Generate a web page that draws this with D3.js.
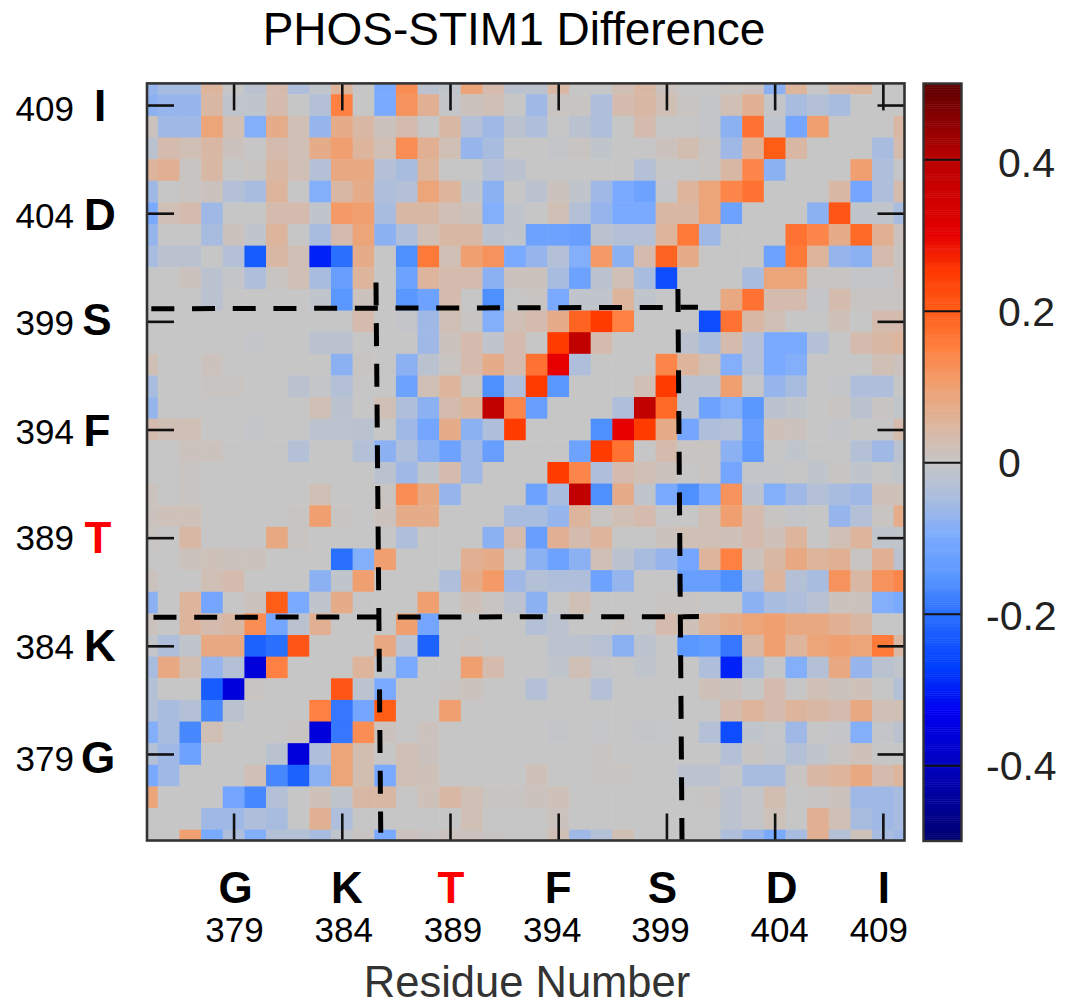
<!DOCTYPE html>
<html>
<head>
<meta charset="utf-8">
<script src="https://cdnjs.cloudflare.com/ajax/libs/d3/7.8.5/d3.min.js"></script>
<style>
html, body { margin: 0; padding: 0; background: #fff; }
svg { display: block; }
text { font-family: "Liberation Sans", Arial, sans-serif; fill: #000; }
</style>
</head>
<body>
<svg id="chart" width="1065" height="1005"></svg>
<script>
// one array per residue on the y axis, columns run from residue 375 to 410
var r410 = [-.07,-.05,-.05,.05,0,-.02,.03,-.04,-.01,.05,0,-.1, .13,-.02,-.01,.09,.03,-.02,-.02,.04,0,0,.02,.04, .01,0,0,.005,.01,-.08,.05,0,.04,.05,0,0];
var r409 = [-.08,-.07,-.07,.04,-.01,-.01,.03,0,-.03,.15,0,-.1, .12,.06,-.005,.01,.02,0,-.06,.005,.005,-.04,.03,.04, .02,.005,-.005,.02,.06,-.005,-.05,-.03,-.05,0,0,0];
var r408 = [.01,-.06,-.06,.09,.02,-.09,.07,.02,-.07,.07,.04,.01, .03,0,.04,-.03,-.06,-.02,-.04,0,-.02,-.04,0,.03, 0,0,-.005,-.08,.17,-.01,-.11,.1,0,0,0,.04];
var r407 = [-.02,.03,.02,.04,.01,0,.03,.02,.07,.1,.05,.02, .13,.06,.02,-.07,-.05,0,0,-.005,.005,-.01,0,0, .01,.025,.005,-.06,.06,.2,.04,0,0,0,-.05,.03];
var r406 = [.05,.06,.005,.04,0,.005,.04,.02,-.03,.08,.08,-.03, -.05,.05,0,0,-.03,-.02,0,0,0,0,0,-.03, 0,0,.005,.04,.14,-.08,0,0,0,.1,-.04,-.005];
var r405 = [-.06,0,.005,.01,-.03,-.05,.05,0,-.09,.04,.07,-.04, -.03,.09,.05,-.01,-.08,0,-.02,.01,-.01,-.06,-.1,-.12, -.005,.05,.09,.14,.17,0,0,0,.04,-.11,-.04,.03];
var r404 = [-.1,.02,.03,-.06,0,0,.03,.03,-.01,.11,.1,-.05, .04,.04,.02,.01,-.09,-.01,0,.02,-.03,-.07,-.1,-.1, .04,.04,.09,-.12,0,0,0,-.08,.21,-.01,-.01,-.05];
var r403 = [-.07,0,0,-.05,.01,-.01,.05,0,-.05,.03,.09,-.08, -.04,.02,.04,.04,-.02,-.01,-.12,-.12,-.13,-.02,-.03,-.03, .05,.16,-.06,0,0,0,.17,.14,.07,.18,.06,.01];
var r402 = [-.05,-.02,-.02,0,-.03,-.23,.04,.02,-.3,-.2,.07,0, -.16,.16,.02,.1,.12,-.1,-.07,-.03,-.09,.11,-.08,.03, .19,.07,0,0,0,-.12,.16,.05,-.07,-.08,.03,.005];
var r401 = [0,0,.01,-.02,-.005,-.04,.005,.02,-.05,-.13,.05,0, -.12,.05,.03,.03,-.08,.01,.01,-.05,-.12,-.02,.02,-.05, -.25,0,0,0,-.05,.09,.09,.005,.005,-.005,-.005,.01];
var r400 = [0,0,0,-.02,0,0,0,0,-.01,-.15,.01,0, -.15,-.12,.03,0,-.16,0,.005,-.1,-.01,-.01,.05,-.01, 0,0,0,.08,.17,.03,.03,-.005,.03,.005,.005,.005];
var r399 = [0,0,0,0,0,0,0,0,0,0,.03,0, -.005,-.06,.02,.005,-.09,.02,.03,.07,.19,.25,.15,0, 0,0,-.25,.17,.04,.02,0,0,.015,0,.03,.03];
var r398 = [0,0,0,0,0,-.005,0,0,-.02,-.02,0,0, 0,-.06,.01,.03,-.01,.03,0,.25,.38,.03,0,0, 0,-.02,-.05,.03,-.03,-.1,-.1,-.03,0,.03,.04,.05];
var r397 = [.02,0,0,.01,0,0,0,0,0,-.08,.005,0, -.08,-.02,.005,.03,.07,.03,.17,.3,-.04,0,0,0, .14,.05,.02,-.09,-.03,-.1,-.09,0,0,0,.02,.01];
var r396 = [-.05,0,0,.005,.005,0,0,-.02,-.005,-.03,0,0, -.12,.02,.05,.005,-.16,-.04,.25,-.15,0,0,0,.02, .25,-.02,-.02,.1,-.005,-.07,-.05,0,-.005,-.04,-.04,0];
var r395 = [-.07,0,0,0,0,0,0,0,.02,-.02,0,.02, -.04,-.08,.03,.05,.38,.14,-.13,0,0,0,-.04,.38, .18,-.02,-.12,-.09,-.15,-.02,-.01,0,.005,-.02,.005,-.01];
var r394 = [.03,.02,.02,0,0,-.005,0,0,-.015,-.015,-.02,0, -.06,-.11,.07,-.08,-.04,.25,0,0,0,-.16,.3,.25, .07,-.11,-.04,-.03,-.13,.015,.01,0,-.005,0,0,.03];
var r393 = [0,0,.01,.01,0,0,0,-.03,0,0,-.03,-.08, -.04,-.08,-.12,-.06,-.13,0,0,0,-.12,.25,.17,0, .03,.005,.005,-.08,-.14,0,-.01,0,0,-.03,-.06,-.02];
var r392 = [0,0,.005,0,0,0,0,0,0,0,0,-.02, -.06,-.01,.03,-.06,0,0,0,.25,.14,-.04,.03,.02, .01,0,.005,-.11,-.005,-.005,0,-.01,.005,-.01,0,-.01];
var r391 = [.01,0,.005,0,0,0,0,0,.02,0,0,.005, .13,.08,-.07,0,0,0,-.12,-.05,.38,-.16,.07,-.01, -.1,-.16,-.1,.12,-.02,-.09,-.06,-.03,-.05,-.06,.015,.015];
var r390 = [.01,.015,.015,0,0,0,0,.005,.1,.005,0,.01, .07,.07,0,0,0,-.05,-.05,-.07,.05,.005,.02,.03, 0,0,.02,.1,.03,.005,-.005,0,-.07,-.03,.005,.07];
var r389 = [.005,0,.04,0,0,0,.08,.005,0,0,0,0, -.04,0,0,0,-.08,.03,-.13,.06,.03,.05,0,0, .01,.02,.02,.015,.03,.015,.05,0,.02,.05,-.01,-.01];
var r388 = [0,0,.01,.015,.01,.01,0,0,0,-.2,-.09,.1, 0,0,0,.06,.07,-.005,-.08,-.12,-.08,.02,-.02,-.05, -.07,-.11,.05,.15,.01,.04,.08,.05,.06,.005,.06,-.02];
var r387 = [.01,0,0,.02,.03,0,0,0,-.08,-.01,.1,0, 0,0,-.04,.07,.11,-.06,-.03,-.04,-.04,-.12,-.07,0, 0,-.13,-.13,-.16,-.04,.05,-.03,-.05,.12,.04,.12,.14];
var r386 = [-.08,0,.05,-.11,0,.01,.2,-.1,-.01,.07,0,0, 0,.1,0,.015,.005,-.015,-.08,0,.02,0,0,0, .005,.005,0,0,-.08,-.05,-.04,-.025,.01,.01,-.09,-.1];
var r385 = [.01,0,.05,.03,.04,.13,-.11,-.02,.06,0,0,0, .1,-.11,0,0,0,0,-.03,-.015,0,0,.005,0, .03,.015,.05,.07,.09,.1,.08,.08,.06,.04,0,0];
var r384 = [-.005,-.04,-.01,.08,.08,-.22,-.2,.21,0,0,0,.08, -.015,-.22,0,.005,0,0,0,-.015,-.015,-.025,-.08,-.015, 0,-.15,-.14,-.19,.04,.1,.05,.09,.1,.09,.16,.04];
var r383 = [-.05,.08,.025,-.07,-.03,-.36,.15,0,0,0,.05,-.01, -.1,0,0,.1,.03,0,0,-.01,.02,-.005,0,-.01, 0,0,-.04,-.3,-.05,-.005,-.09,-.03,.08,-.07,-.02,-.01];
var r382 = [-.03,0,0,-.23,-.36,.005,0,0,0,.21,-.015,-.1, 0,0,.005,.01,0,0,-.03,0,0,-.03,0,0, 0,0,.015,.01,0,.03,0,.02,.01,.015,0,-.03];
var r381 = [-.03,-.05,-.03,-.17,-.02,0,0,0,.15,-.19,-.11,.2, 0,0,.1,0,0,0,0,0,0,0,0,0, 0,0,0,.03,.05,.03,.05,.04,.03,.08,.02,.02];
var r380 = [-.09,-.05,-.17,.02,0,0,0,.005,-.36,-.19,.13,.01, 0,.01,0,0,0,0,0,-.005,0,-.002,0,-.005, -.002,0,-.03,-.25,-.01,-.002,-.06,0,-.005,-.09,-.005,-.02];
var r379 = [-.03,-.06,-.12,0,0,0,-.02,-.36,-.04,.09,.025,0, .02,.01,0,0,0,0,0,0,0,.005,0,0, 0,0,0,-.03,.005,-.005,-.03,-.01,.005,.015,0,0];
var r378 = [-.1,-.06,0,0,0,.02,-.17,-.22,-.08,.09,.025,-.1, .02,.015,0,0,0,0,.015,0,0,.003,.005,0, 0,-.015,-.015,-.005,-.05,-.05,.005,.04,.05,.08,.03,.05];
var r377 = [.09,0,0,0,-.11,-.17,-.03,0,.015,-.01,.04,.04, 0,.015,.04,.02,.005,.005,.01,.015,0,0,0,0, 0,0,.002,-.015,-.005,.025,0,.002,.01,-.06,-.06,-.05];
var r376 = [0,0,0,-.06,-.06,-.04,-.05,0,.06,-.04,0,0, 0,0,0,.02,0,0,0,.01,0,0,0,0, 0,0,0,-.015,-.003,.015,0,.06,.02,-.05,-.06,-.05];
var r375 = [0,0,.1,-.1,-.04,-.09,-.03,-.03,-.05,-.01,.005,-.1, .01,.005,.01,.01,.005,0,0,.02,-.06,-.03,.02,0, 0,0,0,-.04,-.07,-.1,-.05,.06,-.03,.015,-.05,-.06];

var rows = [r410,r409,r408,r407,r406,r405,r404,r403,r402,r401,r400,r399,r398,r397,r396,r395,r394,r393,
            r392,r391,r390,r389,r388,r387,r386,r385,r384,r383,r382,r381,r380,r379,r378,r377,r376,r375];

var tickResidues = [379, 384, 389, 394, 399, 404, 409];
var tickLetters = ["G", "K", "T", "F", "S", "D", "I"];
var barTicks = [0.4, 0.2, 0, -0.2, -0.4];

// dashed boxes, in residue numbers: [x1, y1, x2, y2]
var dashX = [[375.2, 399.58, 400.46, 399.65], [375.3, 385.32, 400.5, 385.35]];
var dashY = [[385.58, 400.8, 385.8, 375.36], [399.53, 400.5, 399.72, 375]];

var colorStops = [-.5, -.4, -.33, -.27, -.2, -.15, -.1, -.05, 0, .05, .1, .15, .2, .25, .3, .4, .5];
var colorHex = ["#000070","#0000c0","#0000f0","#0040ff","#2a70ff","#5a98ff","#7aaaff","#a8bce0","#c6c6c6",
                "#ddb49c","#f0a070","#ff8040","#ff5c18","#ff3a00","#e60000","#b80000","#5c0000"];

var svg = d3.select("#chart");

var x = d3.scaleLinear().domain([375, 410]).range([147, 904.5]);
var y = d3.scaleLinear().domain([410, 375]).range([83.4, 840.5]);
var color = d3.scaleLinear().domain(colorStops).range(colorHex).clamp(true);

var defs = svg.append("defs");
defs.append("clipPath").attr("id", "plot-clip").append("rect")
  .attr("x", x(375)).attr("y", y(410))
  .attr("width", x(410) - x(375)).attr("height", y(375) - y(410));
defs.append("filter").attr("id", "soft")
  .append("feGaussianBlur").attr("stdDeviation", 0.5);

// Heatmap cells, centred on the residue numbers so the outer ones get cut in half
var cellW = x(376) - x(375), cellH = y(409) - y(410);
var cells = [];
rows.forEach(function(row, j) {
  row.forEach(function(v, i) {
    cells.push({ xres: 375 + i, yres: 410 - j, value: v });
  });
});

svg.append("g").attr("clip-path", "url(#plot-clip)")
  .append("g").attr("filter", "url(#soft)")
  .selectAll("rect").data(cells).enter().append("rect")
  .attr("x", function(d) { return x(d.xres) - cellW / 2; })
  .attr("y", function(d) { return y(d.yres) - cellH / 2; })
  .attr("width", cellW + 0.5)
  .attr("height", cellH + 0.5)
  .attr("fill", function(d) { return color(d.value); });

// Inward ticks on all four sides
var tickLen = 27;
var axes = [
  { a: d3.axisBottom(x), t: [0, y(375)] },
  { a: d3.axisTop(x), t: [0, y(410)] },
  { a: d3.axisLeft(y), t: [x(375), 0] },
  { a: d3.axisRight(y), t: [x(410), 0] }
];
axes.forEach(function(d) {
  var g = svg.append("g").attr("transform", "translate(" + d.t[0] + "," + d.t[1] + ")")
    .call(d.a.tickValues(tickResidues).tickSizeInner(-tickLen).tickSizeOuter(0).tickFormat(""));
  g.select(".domain").remove();
  g.selectAll("line").attr("stroke", "#111").attr("stroke-width", 2.6);
});

// Dashed lines
svg.append("g").selectAll("line").data(dashX).enter().append("line")
  .attr("x1", function(d) { return x(d[0]); }).attr("y1", function(d) { return y(d[1]); })
  .attr("x2", function(d) { return x(d[2]); }).attr("y2", function(d) { return y(d[3]); })
  .attr("stroke", "#000").attr("stroke-width", 5).attr("stroke-dasharray", "23 17.7");
svg.append("g").selectAll("line").data(dashY).enter().append("line")
  .attr("x1", function(d) { return x(d[0]); }).attr("y1", function(d) { return y(d[1]); })
  .attr("x2", function(d) { return x(d[2]); }).attr("y2", function(d) { return y(d[3]); })
  .attr("stroke", "#000").attr("stroke-width", 5).attr("stroke-dasharray", "23 17.7");

// Frame
svg.append("rect")
  .attr("x", x(375)).attr("y", y(410))
  .attr("width", x(410) - x(375)).attr("height", y(375) - y(410))
  .attr("fill", "none").attr("stroke", "#333").attr("stroke-width", 2.6);

// Title and axis title
svg.append("text").attr("x", 514).attr("y", 45)
  .attr("text-anchor", "middle").attr("font-size", 46).text("PHOS-STIM1 Difference");
svg.append("text").attr("x", 527).attr("y", 997)
  .attr("text-anchor", "middle").attr("font-size", 43.5).style("fill", "#333")
  .text("Residue Number");

// The labels do not sit exactly on their ticks in the original
var xLetterNudge = [2, 5, 1, 0, -4, 7, 1];
var xNumberNudge = [1, 2, 3, -6, -6, 5, -4];
var yLetterX = [98, 100, 98, 97, 97, 100, 100];
var yNumberNudge = [0, -4, -5, -3, -3, -2, -1];
var yLetterNudge = [0, -4, -4, -3, -5, -2, -3];
var barLabelNudge = [4, 1, 1, 2, 1];
var letterColor = function(l) { return l === "T" ? "#f00" : "#000"; };

var bottom = svg.append("g");
bottom.selectAll("text.letter").data(tickResidues).enter().append("text")
  .attr("class", "letter")
  .attr("x", function(d, i) { return x(d) + xLetterNudge[i]; })
  .attr("y", 903).attr("text-anchor", "middle")
  .attr("font-size", 44).attr("font-weight", "bold")
  .style("fill", function(d, i) { return letterColor(tickLetters[i]); })
  .text(function(d, i) { return tickLetters[i]; });
bottom.selectAll("text.number").data(tickResidues).enter().append("text")
  .attr("class", "number")
  .attr("x", function(d, i) { return x(d) + xNumberNudge[i]; })
  .attr("y", 942).attr("text-anchor", "middle").attr("font-size", 35)
  .text(function(d) { return d; });

var left = svg.append("g");
left.selectAll("text.number").data(tickResidues).enter().append("text")
  .attr("class", "number")
  .attr("x", 74).attr("y", function(d, i) { return y(d) + 17 + yNumberNudge[i]; })
  .attr("text-anchor", "end").attr("font-size", 35)
  .text(function(d) { return d; });
left.selectAll("text.letter").data(tickResidues).enter().append("text")
  .attr("class", "letter")
  .attr("x", function(d, i) { return yLetterX[i]; })
  .attr("y", function(d, i) { return y(d) + 19 + yLetterNudge[i]; })
  .attr("text-anchor", "middle").attr("font-size", 44).attr("font-weight", "bold")
  .style("fill", function(d, i) { return letterColor(tickLetters[i]); })
  .text(function(d, i) { return tickLetters[i]; });

// Colour bar
var barX = 923.5, barW = 38;
var barY = d3.scaleLinear().domain([-0.5, 0.5]).range([841, 83.5]);
var barSteps = d3.range(-0.5, 0.5, 0.0025);
svg.append("g").selectAll("rect").data(barSteps).enter().append("rect")
  .attr("x", barX)
  .attr("y", function(d) { return barY(d + 0.0025); })
  .attr("width", barW)
  .attr("height", function(d) { return barY(d) - barY(d + 0.0025) + 0.5; })
  .attr("fill", function(d) { return color(d); });
var barAxis = svg.append("g").attr("transform", "translate(" + barX + ",0)")
  .call(d3.axisRight(barY).tickValues(barTicks).tickSize(barW).tickFormat(""));
barAxis.select(".domain").remove();
barAxis.selectAll("line").attr("stroke", "#111").attr("stroke-width", 2);
svg.append("rect")
  .attr("x", barX).attr("y", barY(0.5)).attr("width", barW).attr("height", barY(-0.5) - barY(0.5))
  .attr("fill", "none").attr("stroke", "#333").attr("stroke-width", 2.4);

svg.append("g").selectAll("text").data(barTicks).enter().append("text")
  .attr("x", function(d) { return d < 0 ? 986 : 998; })
  .attr("y", function(d, i) { return barY(d) + 14 + barLabelNudge[i]; })
  .attr("font-size", 41)
  .style("fill", "#222")
  .text(function(d) { return d; });
</script>
</body>
</html>
